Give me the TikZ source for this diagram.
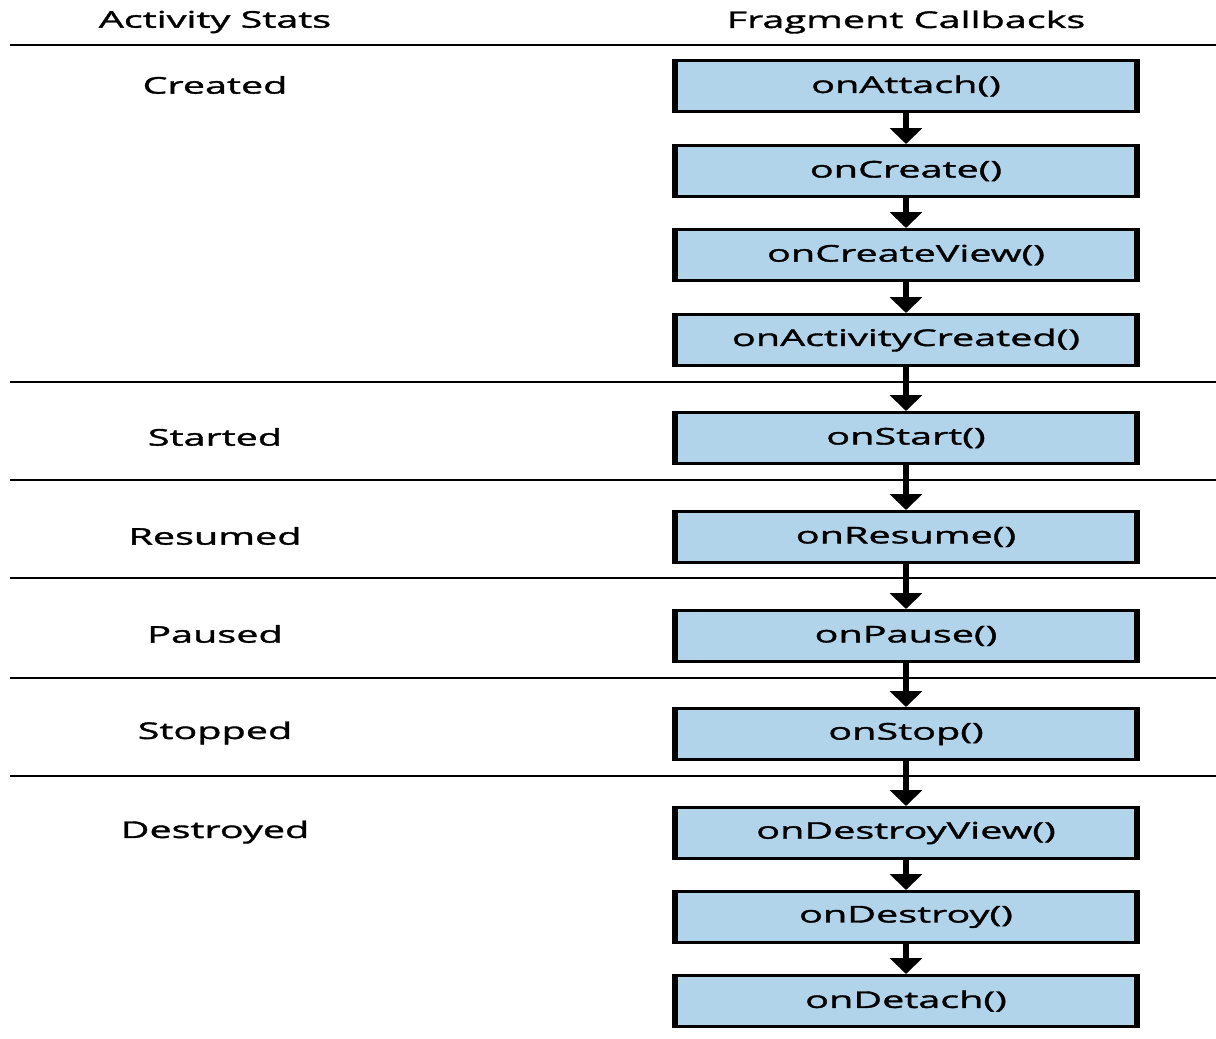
\documentclass[tikz,border=0pt]{standalone}
\usepackage{fontspec}
\setmainfont{Open Sans}[FakeStretch=1.72, FakeBold=1.6]
\usetikzlibrary{arrows.meta, positioning}
\definecolor{cbblue}{RGB}{178,212,235}

\begin{document}
\begin{tikzpicture}[x=0.5pt, y=-0.5pt,
    cb/.style={draw, fill=cbblue, line width=1.5pt, minimum width=231.5pt, minimum height=25.5pt, inner sep=0pt, font=\fontsize{11.5}{13}\selectfont},
    state/.style={font=\fontsize{11.5}{13}\selectfont},
    rule/.style={line width=1.4pt},
    flow/.style={line width=2.6pt, -{Triangle[width=16pt, length=8pt]}}]
    \useasboundingbox (0,0) rectangle (1216,1039);

    % Headers
    \node[state] (hstate) at (215,22) {Activity Stats};
    \node[state] (hcb) at (906,22) {Fragment Callbacks};

    % Rules
    \foreach \y in {45, 382, 480, 578, 678, 776}
        \draw[rule] (10,\y) -- (1216,\y);

    % Activity states
    \node[state] (created) at (215,85) {Created};
    \node[state] (started) at (215,437) {Started};
    \node[state] (resumed) at (215,536) {Resumed};
    \node[state] (paused) at (215,634) {Paused};
    \node[state] (stopped) at (215,733) {Stopped};
    \node[state] (destroyed) at (215,832) {Destroyed};

    % Callbacks
    \node[cb] (attach) at (906,86) {onAttach()};
    \node[cb] (create) at (906,171) {onCreate()};
    \node[cb] (createview) at (906,255) {onCreateView()};
    \node[cb] (actcreated) at (906,340) {onActivityCreated()};
    \node[cb] (start) at (906,438) {onStart()};
    \node[cb] (resume) at (906,537) {onResume()};
    \node[cb] (pause) at (906,636) {onPause()};
    \node[cb] (stop) at (906,734) {onStop()};
    \node[cb] (destroyview) at (906,833) {onDestroyView()};
    \node[cb] (destroy) at (906,917) {onDestroy()};
    \node[cb] (detach) at (906,1001) {onDetach()};

    % Heavy sides
    \foreach \n in {attach, create, createview, actcreated, start, resume, pause, stop, destroyview, destroy, detach} {
        \draw[line width=2.6pt] ([xshift=1pt]\n.north west) -- ([xshift=1pt]\n.south west);
        \draw[line width=2.6pt] ([xshift=-1pt]\n.north east) -- ([xshift=-1pt]\n.south east);
    }

    % Arrows
    \foreach \a/\b in {attach/create, create/createview, createview/actcreated, actcreated/start, start/resume, resume/pause, pause/stop, stop/destroyview, destroyview/destroy, destroy/detach}
        \draw[flow] (\a) -- (\b);
\end{tikzpicture}
\end{document}
